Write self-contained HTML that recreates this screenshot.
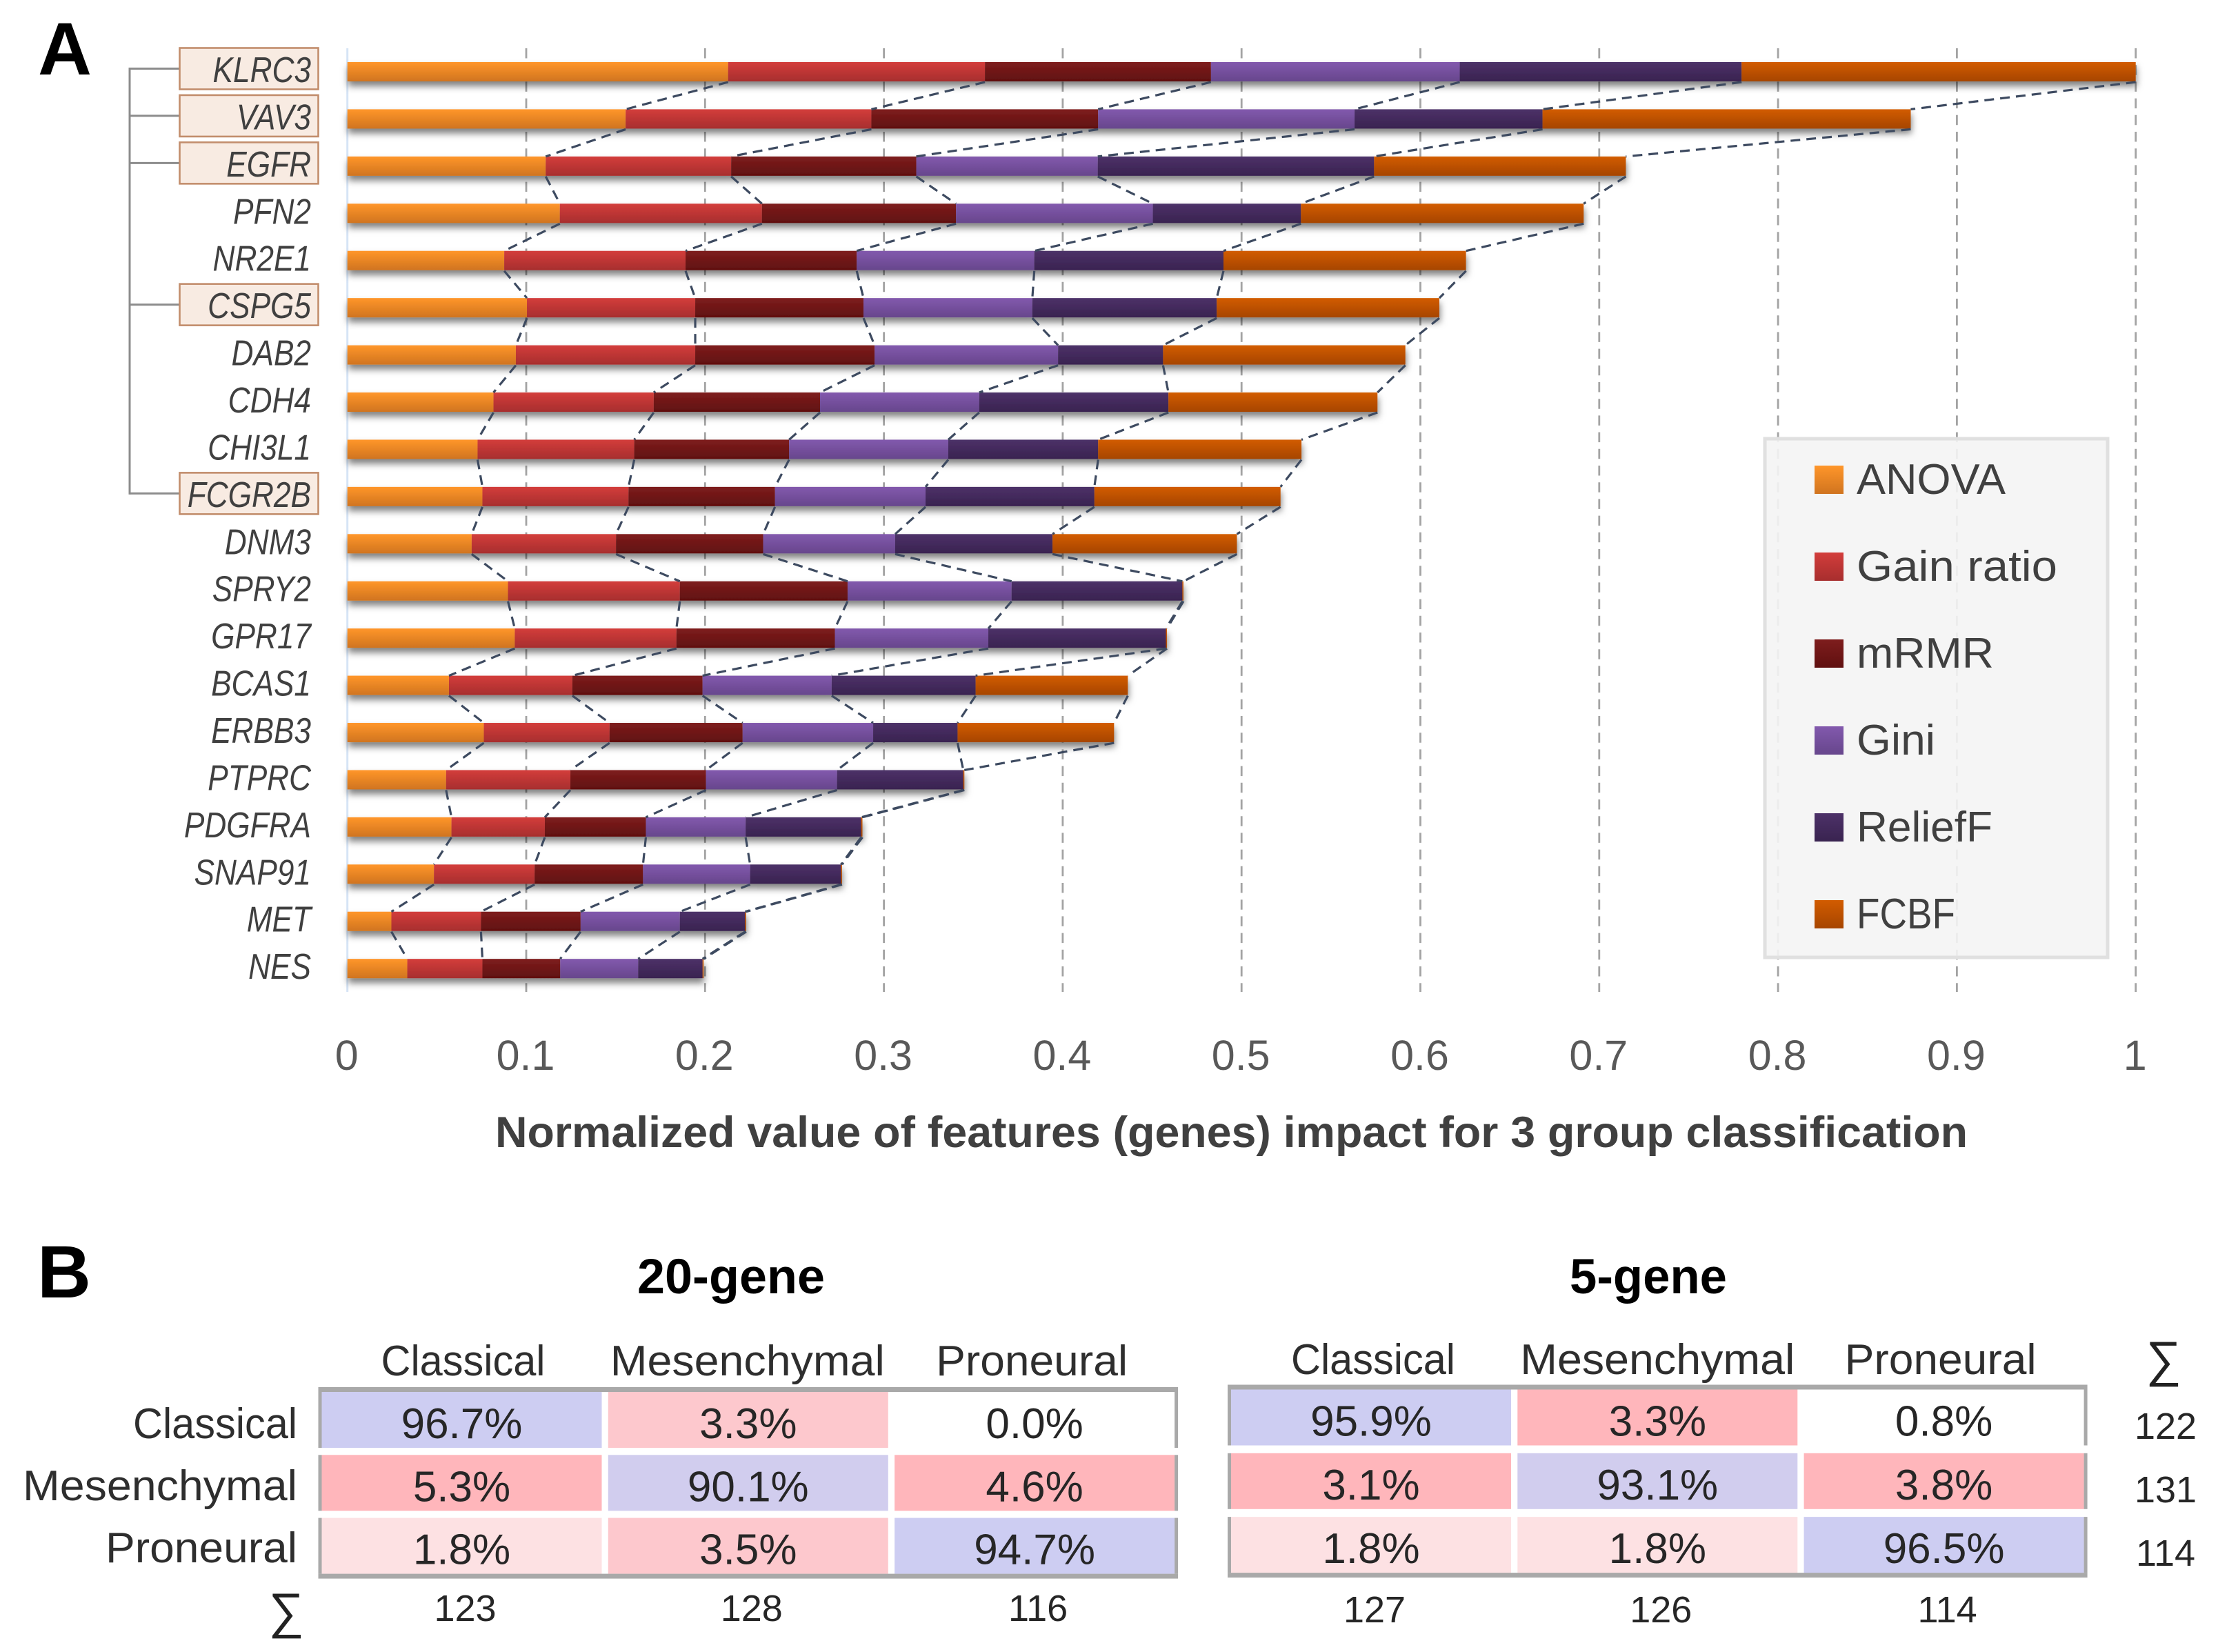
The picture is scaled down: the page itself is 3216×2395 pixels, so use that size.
<!DOCTYPE html>
<html lang="en">
<head>
<meta charset="utf-8">
<title>Normalized gene feature impact and confusion matrices</title>
<style>
html,body{margin:0;padding:0;background:#fff;}
body{width:3216px;height:2395px;overflow:hidden;}
svg{display:block;}
text{font-family:"Liberation Sans",sans-serif;}
</style>
</head>
<body>
<svg id="fig" xmlns="http://www.w3.org/2000/svg" width="3216" height="2395" viewBox="0 0 3216 2395">
<defs>
<filter id="bar-shadow" x="-3%" y="-20%" width="106%" height="220%">
<feDropShadow dx="1" dy="7" stdDeviation="5" flood-color="#000" flood-opacity="0.5"/>
</filter>
<linearGradient id="g0" x1="0" y1="0" x2="0" y2="1"><stop offset="0" stop-color="#ff962a"/><stop offset="1" stop-color="#d0741f"/></linearGradient>
<linearGradient id="g1" x1="0" y1="0" x2="0" y2="1"><stop offset="0" stop-color="#d33d3b"/><stop offset="1" stop-color="#a72e2e"/></linearGradient>
<linearGradient id="g2" x1="0" y1="0" x2="0" y2="1"><stop offset="0" stop-color="#7e1d1d"/><stop offset="1" stop-color="#601010"/></linearGradient>
<linearGradient id="g3" x1="0" y1="0" x2="0" y2="1"><stop offset="0" stop-color="#8259ad"/><stop offset="1" stop-color="#67468c"/></linearGradient>
<linearGradient id="g4" x1="0" y1="0" x2="0" y2="1"><stop offset="0" stop-color="#4d3168"/><stop offset="1" stop-color="#392350"/></linearGradient>
<linearGradient id="g5" x1="0" y1="0" x2="0" y2="1"><stop offset="0" stop-color="#d25c00"/><stop offset="1" stop-color="#a64500"/></linearGradient>
</defs>

<text x="55" y="108" font-size="108" font-weight="700" fill="#000">A</text>
<text x="54" y="1881" font-size="108" font-weight="700" fill="#000">B</text>

<g id="chart"></g>
<text x="718" y="1663" font-size="63" font-weight="700" fill="#404040" textLength="2135" lengthAdjust="spacingAndGlyphs">Normalized value of features (genes) impact for 3 group classification</text>
<g id="legend"></g>
<g id="matrices"></g>
</svg>

<script>
// ---------- Panel A data ----------
const genes = ["KLRC3","VAV3","EGFR","PFN2","NR2E1","CSPG5","DAB2","CDH4","CHI3L1","FCGR2B","DNM3","SPRY2","GPR17","BCAS1","ERBB3","PTPRC","PDGFRA","SNAP91","MET","NES"];
const boxedGenes = ["KLRC3","VAV3","EGFR","CSPG5","FCGR2B"];
const seriesNames = ["ANOVA","Gain ratio","mRMR","Gini","ReliefF","FCBF"];
const anova = [.2129,.1556,.1109,.1188,.0877,.1004,.0942,.0817,.0728,.0755,.0695,.0898,.0936,.0568,.0763,.0552,.0582,.0484,.0246,.0335];
const gainRatio = [.1436,.1374,.1037,.1130,.1014,.0941,.1003,.0896,.0876,.0817,.0807,.0961,.0904,.0690,.0703,.0695,.0522,.0563,.0501,.0420];
const mrmr = [.1264,.1268,.1035,.1085,.0957,.0941,.1003,.0930,.0866,.0819,.0823,.0938,.0886,.0728,.0744,.0758,.0565,.0606,.0557,.0435];
const gini = [.1391,.1434,.1015,.1101,.0993,.0944,.1026,.0890,.0890,.0842,.0738,.0917,.0858,.0722,.0730,.0733,.0558,.0599,.0555,.0436];
const relieff = [.1576,.1051,.1545,.0828,.1058,.1031,.0587,.1058,.0838,.0944,.0880,.0955,.0993,.0805,.0472,.0706,.0646,.0508,.0365,.0360];
const fcbf = [.2204,.2059,.1408,.1581,.1356,.1245,.1355,.1169,.1137,.1041,.1031,.0006,.0006,.0851,.0875,.0006,.0007,.0006,.0006,.0006];
const xTicks = ["0","0.1","0.2","0.3","0.4","0.5","0.6","0.7","0.8","0.9","1"];

// ---------- Panel B data ----------
const classNames = ["Classical","Mesenchymal","Proneural"];
const matrix20 = [[96.7,3.3,0.0],[5.3,90.1,4.6],[1.8,3.5,94.7]];
const matrix5 = [[95.9,3.3,0.8],[3.1,93.1,3.8],[1.8,1.8,96.5]];
const colSums20 = [123,128,116];
const colSums5 = [127,126,114];
const rowSums5 = [122,131,114];

const NS = "http://www.w3.org/2000/svg";
function el(parent, tag, attrs, txt) {
  const n = document.createElementNS(NS, tag);
  for (const k in attrs) n.setAttribute(k, attrs[k]);
  if (txt !== undefined) n.textContent = txt;
  parent.appendChild(n);
  return n;
}

// ---------- axis functions ----------
const xScale = v => 503.7 + v * 2593;
const rowCenter = i => 104 + i * 68.43;
const BAR_H = 28;
const series = [anova, gainRatio, mrmr, gini, relieff, fcbf];

const chart = document.getElementById("chart");

// grid lines
xTicks.forEach(t => {
  const v = parseFloat(t);
  const x = xScale(v);
  if (v === 0) {
    const axis = el(chart, "line", {x1:x, x2:x, y1:70, y2:1438, stroke:"#d6e4f5", "stroke-width":3});
    
    
  } else {
    const g = el(chart, "line", {x1:x, x2:x, y1:70, y2:1438, stroke:"#a3a3a3", "stroke-width":2.8, "stroke-dasharray":"14.5 9.7"});
    
    
  }
  const lab = el(chart, "text", {x:x-1, y:1551, "font-size":61, fill:"#595959", "text-anchor":"middle"}, t);
  
  
});

// bracket
const bracketRows = boxedGenes.map(g => genes.indexOf(g));
const bracketY = i => rowCenter(i) - 4.5;
const bracketStem = el(chart, "line", {
  x1:188, x2:188,
  y1:bracketY(bracketRows[0]) - 1.5,
  y2:bracketY(bracketRows[bracketRows.length-1]) + 1.5,
  stroke:"#8c8c8c", "stroke-width":3
});


bracketRows.forEach(i => {
  const b = el(chart, "line", {x1:188, x2:262, y1:bracketY(i), y2:bracketY(i), stroke:"#8c8c8c", "stroke-width":3});
  
  
});

// gene labels
genes.forEach((g, i) => {
  if (boxedGenes.includes(g)) {
    const box = el(chart, "rect", {x:260.5, y:rowCenter(i)-34.5, width:201, height:60, fill:"#f8ebe2", stroke:"#c28d6c", "stroke-width":2.6});
    
    
  }
  const t = el(chart, "text", {
    transform:"translate(451," + (rowCenter(i)+15) + ") scale(.85,1)",
    "font-size":52, "font-style":"italic", fill:"#404040", "text-anchor":"end"
  }, g);
  
  
});

// cumulative boundaries derived from series arrays
const cumulative = genes.map((_, r) => {
  let s = 0;
  return series.map(a => (s += a[r]));
});

// bars
genes.forEach((g, r) => {
  const group = el(chart, "g", {filter:"url(#bar-shadow)"});
  
  
  let start = 0;
  series.forEach((a, s) => {
    const x0 = xScale(start), x1 = xScale(start + a[r]);
    const seg = el(group, "rect", {x:x0, y:rowCenter(r)-BAR_H/2, width:Math.max(x1-x0,1.5), height:BAR_H, fill:"url(#g"+s+")"});
    
    
    start += a[r];
  });
});

// connectors between consecutive bars
genes.forEach((g, r) => {
  if (r === genes.length - 1) return;
  series.forEach((a, s) => {
    const c = el(chart, "line", {
      x1:xScale(cumulative[r][s]), y1:rowCenter(r)+BAR_H/2+1,
      x2:xScale(cumulative[r+1][s]), y2:rowCenter(r+1)-BAR_H/2,
      stroke:"#3d4a60", "stroke-width":3.2, "stroke-dasharray":"14 9"
    });
    
    
  });
});

// legend
const legend = document.getElementById("legend");
const legendWidths = [216,291,199,114,197,143];
const legendBox = el(legend, "rect", {x:2559, y:636, width:497, height:752, fill:"#f4f4f4", "fill-opacity":.9, stroke:"#e0e0e0", "stroke-width":5});


seriesNames.forEach((name, i) => {
  const y = 675 + i * 126;
  const sw = el(legend, "rect", {x:2631, y:y, width:42, height:41, fill:"url(#g"+i+")"});
  
  
  const t = el(legend, "text", {x:2692, y:y+41, "font-size":62, fill:"#404040", textLength:legendWidths[i], lengthAdjust:"spacingAndGlyphs"}, name);
  
  
});

// ---------- Panel B ----------
const matrices = document.getElementById("matrices");
const classLabelWidths = [238,398,278];

function cellFill(v, r, c, m) {
  if (r === c) return v >= 94 ? "#cdcdf2" : "#d1cdee";
  let maxOff = 0;
  m.forEach((row, i) => row.forEach((x, j) => { if (i !== j && x > maxOff) maxOff = x; }));
  const k = v / maxOff;
  if (k >= .8) return "#ffb6bb";
  if (k >= .55) return "#fdc8cd";
  if (k >= .3) return "#fde1e3";
  return "#ffffff";
}

function drawMatrix(m, o) {
  const colX = c => o.x0 + c * 415.3;
  const rowY = r => o.y0 + r * o.rowStep;
  const CW = 406, CH = 81;

  const title = el(matrices, "text", {x:o.titleX, y:1875, "font-size":71, "font-weight":700, fill:"#000", "text-anchor":"middle", textLength:o.titleW, lengthAdjust:"spacingAndGlyphs"}, o.title);
  
  

  m.forEach((row, r) => row.forEach((v, c) => {
    const cell = el(matrices, "rect", {x:colX(c), y:rowY(r), width:CW, height:CH, fill:cellFill(v, r, c, m)});
    
    
    const t = el(matrices, "text", {x:colX(c)+CW/2+o.dx, y:rowY(r)+67, "font-size":62, fill:"#262626", "text-anchor":"middle"}, v.toFixed(1) + "%");
    
    
  }));

  // frame: heavy top/bottom, side pieces alongside each row
  const fx0 = colX(0) - 5, fx1 = colX(2) + CW + 5;
  const fy0 = rowY(0) - 7, fy1 = rowY(2) + CH + 7;
  const top = el(matrices, "rect", {x:fx0, y:fy0, width:fx1-fx0, height:7, fill:"#a9a9a9"});
  
  
  const bottom = el(matrices, "rect", {x:fx0, y:fy1-7, width:fx1-fx0, height:7, fill:"#a9a9a9"});
  
  
  m.forEach((row, r) => {
    [fx0, fx1-5].forEach(x => {
      const side = el(matrices, "rect", {x:x, y:rowY(r), width:5, height:CH, fill:"#a9a9a9"});
      
      
    });
  });

  classNames.forEach((n, c) => {
    const h = el(matrices, "text", {x:colX(c)+CW/2+o.hdx[c], y:o.headerY, "font-size":62, fill:"#2e2e2e", "text-anchor":"middle", textLength:classLabelWidths[c], lengthAdjust:"spacingAndGlyphs"}, n);
    
    
  });

  o.colSums.forEach((s, c) => {
    const t = el(matrices, "text", {x:colX(c)+CW/2+o.dx+5, y:o.sumY, "font-size":54, fill:"#262626", "text-anchor":"middle", "font-family":"Liberation Serif, serif"}, s);
    
    
  });
}

drawMatrix(matrix20, {x0:466.5, y0:2018, rowStep:91.3, title:"20-gene", titleX:1060, titleW:272, headerY:1994, sumY:2350, colSums:colSums20, dx:0, hdx:[2,-1,-4]});
drawMatrix(matrix5, {x0:1785, y0:2014.5, rowStep:92.3, title:"5-gene", titleX:2390, titleW:228, headerY:1992, sumY:2352, colSums:colSums5, dx:0, hdx:[3,0,-5]});

// row labels (20-gene, left of the matrix)
classNames.forEach((n, r) => {
  const t = el(matrices, "text", {x:431, y:2085 + r * 90, "font-size":62, fill:"#2e2e2e", "text-anchor":"end", textLength:classLabelWidths[r], lengthAdjust:"spacingAndGlyphs"}, n);
  
  
});

// sigma symbols
const sigmaLeft = el(matrices, "text", {x:415, y:2360, "font-size":72, fill:"#222", "text-anchor":"middle"}, "\u2211");


const sigmaRight = el(matrices, "text", {x:3137, y:1995, "font-size":72, fill:"#222", "text-anchor":"middle"}, "\u2211");



// row sums (5-gene)
rowSums5.forEach((s, r) => {
  const t = el(matrices, "text", {x:3140, y:2086 + r * 92, "font-size":54, fill:"#262626", "text-anchor":"middle", "font-family":"Liberation Serif, serif"}, s);
  
  
});
</script>
</body>
</html>
